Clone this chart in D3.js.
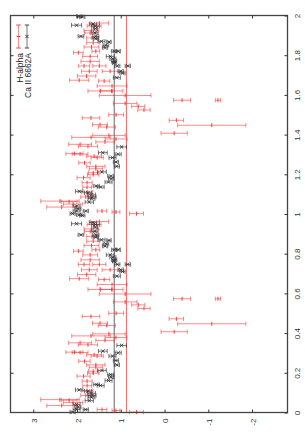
<!DOCTYPE html>
<html><head><meta charset="utf-8">
<script src="https://cdn.jsdelivr.net/npm/d3@7"></script>
<style>html,body{margin:0;padding:0;background:#fff;} svg{display:block;}</style>
</head><body>
<svg id="c" width="305" height="436"></svg>
<script>
// H-alpha (red) : phase, value, error
const haPhase = [0.002,0.010,0.015,0.035,0.050,0.062,0.065,0.086,0.111,0.135,0.158,0.183,0.198,0.208,0.228,0.240,0.258,0.284,0.291,0.302,0.304,0.341,0.351,0.363,0.378,0.386,0.396,0.407,0.438,0.447,0.450,0.472,0.484,0.500,0.524,0.542,0.557,0.573,0.573,0.597,0.620,0.620,0.645,0.670,0.674,0.695,0.719,0.719,0.746,0.746,0.769,0.794,0.813,0.820,0.841,0.863,0.887,0.912,0.925,0.947,0.962];
const haValue = [0.64,1.11,1.43,2.35,2.09,2.18,2.39,1.80,1.77,1.77,1.77,1.85,1.63,1.63,1.57,1.57,1.83,1.54,1.61,1.93,2.06,1.75,1.93,1.36,1.11,1.68,1.27,-0.22,1.32,-1.08,1.475,-0.27,1.68,1.106,0.47,0.60,0.90,-0.40,-1.22,0.90,1.47,1.21,1.20,1.38,1.95,1.78,1.72,1.245,1.84,1.49,1.70,1.70,1.97,1.57,1.67,1.63,1.66,1.70,1.67,1.61,1.49];
const haError = [0.16,0.09,0.11,0.34,0.22,0.18,0.44,0.115,0.13,0.10,0.115,0.15,0.13,0.11,0.15,0.21,0.13,0.14,0.17,0.18,0.195,0.22,0.26,0.21,0.25,0.44,0.37,0.30,0.195,0.78,0.17,0.165,0.20,0.17,0.14,0.15,0.27,0.195,0.06,0.59,0.28,0.26,0.34,0.13,0.22,0.21,0.18,0.18,0.13,0.15,0.21,0.17,0.11,0.09,0.17,0.15,0.12,0.13,0.17,0.16,0.21];

// Ca II 6662A (black) : phase, value, error
const caPhase = [0.002,0.015,0.015,0.027,0.040,0.060,0.077,0.086,0.097,0.107,0.114,0.136,0.141,0.161,0.178,0.191,0.212,0.240,0.262,0.284,0.301,0.309,0.338,0.687,0.710,0.719,0.746,0.746,0.762,0.769,0.782,0.794,0.820,0.820,0.838,0.850,0.867,0.870,0.883,0.895,0.895,0.913,0.934,0.947,0.951,0.957,0.993,0.996];
const caValue = [2.10,2.01,1.80,1.98,2.01,1.72,1.67,1.65,1.67,1.75,1.95,1.46,1.56,1.28,1.22,1.23,1.43,1.09,1.11,1.19,1.06,1.41,0.98,1.09,0.96,1.00,1.08,0.84,1.15,1.15,1.18,1.24,1.15,1.06,1.36,1.34,1.27,1.44,1.57,1.91,1.57,1.59,1.58,1.58,2.01,1.635,1.88,1.95];
const caError = [0.06,0.08,0.06,0.07,0.08,0.095,0.08,0.085,0.09,0.08,0.085,0.08,0.07,0.08,0.06,0.07,0.10,0.06,0.06,0.08,0.07,0.10,0.11,0.08,0.06,0.06,0.06,0.06,0.04,0.06,0.07,0.09,0.06,0.05,0.06,0.065,0.05,0.08,0.06,0.065,0.07,0.07,0.05,0.09,0.115,0.085,0.06,0.06];

const cycleOffsets = [0, 1];
const phaseTicks = [0,0.2,0.4,0.6,0.8,1,1.2,1.4,1.6,1.8,2];
const valueTicks = [3,2,1,0,-1,-2];
const refValues = [1.15, 0.87];          // Ca II mean, H-alpha mean
const seriesNames = ["H-alpha", "Ca II 6662A"];

(function () {
const RED = "rgb(255,40,40)", BLK = "#333";
const L = 10.5, R = 287.5, T = 15.5, B = 412.5;
const svg = d3.select("#c");
const x = d3.scaleLinear().domain([3.52, -2.81]).range([L, R]);
const y = d3.scaleLinear().domain([0, 2]).range([B, T]);
const FONT = "Liberation Sans, Arial, sans-serif";

// reference lines
const refColors = [BLK, RED];
svg.selectAll("line.ref").data(refValues).enter().append("line").attr("class", "ref")
  .attr("x1", d => x(d)).attr("x2", d => x(d)).attr("y1", T).attr("y2", B)
  .attr("stroke", (d,i) => refColors[i]).attr("stroke-opacity", (d,i)=> i? 0.7 : 0.75).attr("stroke-width", 1);

function buildPts(ph, va, er) {
  const out = [];
  cycleOffsets.forEach(o => ph.forEach((p,i) => out.push({p: p + o, v: va[i], e: er[i]})));
  return out;
}

function drawSeries(pts, color, marker, op) {
  const g = svg.append("g").attr("stroke", color).attr("stroke-width", 0.9).attr("fill", "none").attr("stroke-opacity", op);
  const cap = 2.2;
  pts.forEach(d => {
    const yy = y(d.p), x1 = x(d.v + d.e), x2 = x(d.v - d.e), xc = x(d.v);
    g.append("line").attr("x1", x1).attr("x2", x2).attr("y1", yy).attr("y2", yy);
    g.append("line").attr("x1", x1).attr("x2", x1).attr("y1", yy - cap).attr("y2", yy + cap);
    g.append("line").attr("x1", x2).attr("x2", x2).attr("y1", yy - cap).attr("y2", yy + cap);
    if (marker === "+") {
      g.append("line").attr("x1", xc).attr("x2", xc).attr("y1", yy - 2).attr("y2", yy + 2).attr("stroke-opacity", 1);
    } else {
      const s = 1.7;
      g.append("path").attr("d", `M${xc-s},${yy-s}L${xc+s},${yy+s}M${xc-s},${yy+s}L${xc+s},${yy-s}`).attr("stroke-opacity", 1);
    }
  });
}
drawSeries(buildPts(haPhase, haValue, haError), RED, "+", 0.6);
drawSeries(buildPts(caPhase, caValue, caError), BLK, "x", 0.75);

// border
svg.append("rect").attr("x", L).attr("y", T).attr("width", R-L).attr("height", B-T)
  .attr("fill", "none").attr("stroke", "#444").attr("stroke-width", 1.3);

// phase axis (right) with inward ticks, rotated labels
const ax = svg.append("g").attr("transform", `translate(${R},0)`)
  .call(d3.axisRight(y).tickValues(phaseTicks).tickSizeInner(-3).tickSizeOuter(0).tickFormat(d3.format("~g")));
ax.select(".domain").remove();
ax.selectAll(".tick line").attr("stroke", "#333");
ax.selectAll(".tick text").attr("x", null).attr("dy", null)
  .attr("transform", "translate(12.5,0) rotate(-90)").attr("text-anchor", "middle")
  .attr("font-family", FONT).attr("font-size", 8).attr("fill", "#333");
const axL = svg.append("g").attr("transform", `translate(${L},0)`)
  .call(d3.axisLeft(y).tickValues(phaseTicks.slice(1,-1)).tickSizeInner(-3).tickSizeOuter(0).tickFormat(""));
axL.select(".domain").remove();
axL.selectAll(".tick line").attr("stroke", "#333");

// value axis (bottom) with inward ticks, rotated labels
const bx = svg.append("g").attr("transform", `translate(0,${B})`)
  .call(d3.axisBottom(x).tickValues(valueTicks).tickSizeInner(-3).tickSizeOuter(0).tickFormat(d3.format("~g")));
bx.select(".domain").remove();
bx.selectAll(".tick line").attr("stroke", "#333");
bx.selectAll(".tick text").attr("y", null).attr("dy", null)
  .attr("transform", "translate(3,6) rotate(-90)").attr("text-anchor", "end")
  .attr("font-family", FONT).attr("font-size", 8).attr("fill", "#333")
  .text(d => String(d));
const tx = svg.append("g").attr("transform", `translate(0,${T})`)
  .call(d3.axisTop(x).tickValues(valueTicks).tickSizeInner(-3).tickSizeOuter(0).tickFormat(""));
tx.select(".domain").remove();
tx.selectAll(".tick line").attr("stroke", "#333");

// legend
const legCols = [RED, BLK], legMarks = ["+", "x"], legX = [18.5, 27], legTx = [22.5, 31];
seriesNames.forEach((name, i) => {
  const g = svg.append("g").attr("stroke", legCols[i]).attr("stroke-width", 0.9).attr("fill", "none");
  const y1 = 25, y2 = 48, xc = legX[i], ym = (y1 + y2) / 2;
  g.append("line").attr("x1", xc).attr("x2", xc).attr("y1", y1).attr("y2", y2).attr("stroke-opacity", i ? 0.75 : 0.6);
  g.append("line").attr("x1", xc-2.2).attr("x2", xc+2.2).attr("y1", y1).attr("y2", y1);
  g.append("line").attr("x1", xc-2.2).attr("x2", xc+2.2).attr("y1", y2).attr("y2", y2);
  if (legMarks[i] === "+") g.append("line").attr("x1", xc-2).attr("x2", xc+2).attr("y1", ym).attr("y2", ym);
  else g.append("path").attr("d", `M${xc-1.7},${ym-1.7}L${xc+1.7},${ym+1.7}M${xc-1.7},${ym+1.7}L${xc+1.7},${ym-1.7}`);
  svg.append("text").attr("transform", `translate(${legTx[i]},53) rotate(-90)`).attr("text-anchor", "end")
    .attr("font-family", FONT).attr("font-size", 8.5).attr("fill", "#222").text(name);
});
})();
</script>
</body></html>
